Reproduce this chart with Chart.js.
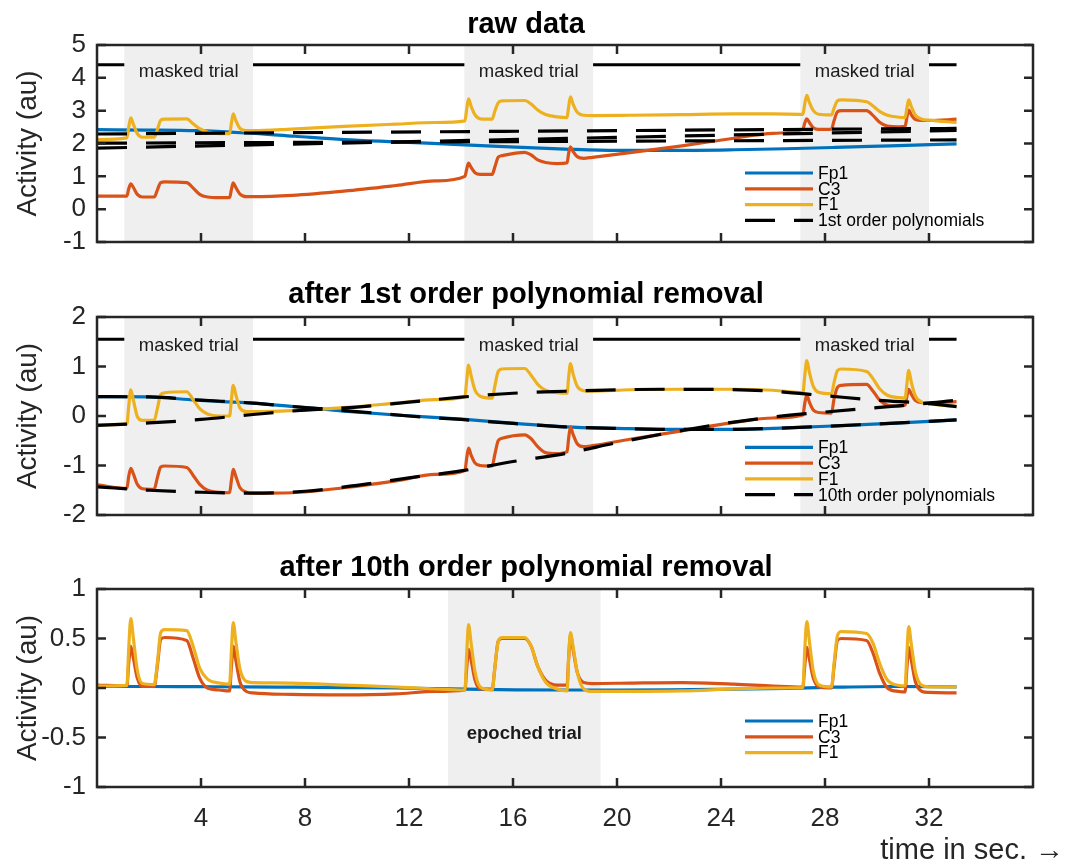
<!DOCTYPE html>
<html>
<head>
<meta charset="utf-8">
<script src="https://cdn.jsdelivr.net/npm/chart.js@4.4.1/dist/chart.umd.min.js"></script>
<style>
  body { margin: 0; background: #fff; }
  #wrap { position: relative; width: 1067px; height: 863px; }
  canvas { position: absolute; left: 0; top: 0; }
</style>
</head>
<body>
<div id="wrap">
  <canvas id="c1" width="1067" height="863"></canvas>
  <canvas id="c2" width="1067" height="863"></canvas>
  <canvas id="c3" width="1067" height="863"></canvas>
</div>
<script>
const FONT = "'Liberation Sans', Arial, Helvetica, sans-serif";

// axes
const xTicks = [4, 8, 12, 16, 20, 24, 28, 32];
const rawTicks = [-1, 0, 1, 2, 3, 4, 5];
const firstTicks = [-2, -1, 0, 1, 2];
const tenthTicks = [-1, -0.5, 0, 0.5, 1];
const tenthLabels = ["-1", "-0.5", "0", "0.5", "1"];

// trials (seconds)
const maskedStart = [1.05, 14.13, 27.05];
const maskedEnd = [6.0, 19.08, 32.0];
const epochStart = 13.5;
const epochEnd = 19.37;
const tEnd = 33.06;

// time points for F1 / C3 traces
const tEvent = [
  0, 1.15, 1.22, 1.3, 1.4, 1.55, 1.75, 2.2, 2.32, 2.45, 2.6, 3.45, 3.7, 3.95, 4.25, 4.7, 5.1, 5.17, 5.24, 5.34, 5.5, 5.75, 6.0,
  7.5, 9.5, 11.5, 13.0,
  14.15, 14.22, 14.29, 14.39, 14.54, 14.74, 15.2, 15.3, 15.43, 15.58, 16.45, 16.7, 16.95, 17.25, 17.7, 18.08, 18.14, 18.21, 18.31, 18.47, 18.72, 19.05,
  20.5, 22.5, 24.5, 26.0,
  27.15, 27.22, 27.3, 27.4, 27.55, 27.75, 28.25, 28.35, 28.48, 28.63, 29.6, 29.85, 30.1, 30.4, 30.85, 31.08, 31.15, 31.22, 31.32, 31.48, 31.73, 32.0, 33.06,
];

// raw data
const rawF1 = [
  2.12, 2.17, 2.5, 2.78, 2.58, 2.3, 2.19, 2.19, 2.42, 2.71, 2.74, 2.75, 2.6, 2.45, 2.35, 2.3, 2.3, 2.62, 2.9, 2.7, 2.46, 2.39, 2.39,
  2.44, 2.52, 2.59, 2.64,
  2.69, 3.05, 3.36, 3.13, 2.87, 2.75, 2.74, 2.98, 3.24, 3.3, 3.31, 3.2, 3.02, 2.88, 2.81, 2.79, 3.12, 3.42, 3.2, 2.95, 2.86, 2.85,
  2.86, 2.88, 2.9, 2.9,
  2.89, 3.2, 3.47, 3.25, 3.0, 2.89, 2.87, 3.08, 3.3, 3.33, 3.27, 3.14, 2.98, 2.86, 2.8, 2.79, 3.08, 3.33, 3.12, 2.86, 2.74, 2.71, 2.64,
];
const rawC3 = [
  0.4, 0.4, 0.62, 0.77, 0.66, 0.45, 0.37, 0.37, 0.58, 0.81, 0.83, 0.81, 0.64, 0.45, 0.37, 0.35, 0.35, 0.6, 0.8, 0.66, 0.46, 0.38, 0.38,
  0.42, 0.55, 0.72, 0.86,
  1.0, 1.22, 1.4, 1.27, 1.11, 1.06, 1.06, 1.28, 1.58, 1.63, 1.73, 1.65, 1.5, 1.42, 1.39, 1.41, 1.7, 1.9, 1.76, 1.6, 1.55, 1.58,
  1.72, 1.93, 2.16, 2.31,
  2.43, 2.62, 2.75, 2.64, 2.48, 2.43, 2.44, 2.7, 2.97, 3.0, 3.0, 2.85, 2.65, 2.53, 2.51, 2.52, 2.8, 3.02, 2.87, 2.73, 2.7, 2.7, 2.74,
];

// after 1st order removal
const firstF1 = [
  -0.18, -0.16, 0.2, 0.53, 0.32, -0.01, -0.09, -0.09, 0.15, 0.43, 0.47, 0.49, 0.33, 0.15, 0.04, 0.0, 0.0, 0.33, 0.62, 0.43, 0.16, 0.09, 0.09,
  0.11, 0.17, 0.26, 0.33,
  0.39, 0.72, 1.03, 0.81, 0.52, 0.4, 0.36, 0.6, 0.9, 0.95, 0.96, 0.82, 0.64, 0.52, 0.47, 0.46, 0.78, 1.06, 0.85, 0.6, 0.51, 0.5,
  0.53, 0.54, 0.54, 0.52,
  0.47, 0.8, 1.12, 0.88, 0.6, 0.48, 0.45, 0.68, 0.92, 0.95, 0.9, 0.75, 0.55, 0.42, 0.37, 0.36, 0.65, 0.92, 0.68, 0.4, 0.28, 0.25, 0.19,
];
const firstC3 = [
  -1.39, -1.46, -1.22, -1.06, -1.17, -1.38, -1.47, -1.48, -1.25, -1.03, -1.01, -1.04, -1.2, -1.38, -1.5, -1.54, -1.55, -1.3, -1.08, -1.22, -1.45, -1.54, -1.56,
  -1.55, -1.45, -1.31, -1.18,
  -1.1, -0.85, -0.65, -0.79, -0.95, -1.0, -1.01, -0.78, -0.5, -0.45, -0.38, -0.46, -0.62, -0.74, -0.76, -0.72, -0.45, -0.22, -0.37, -0.56, -0.62, -0.6,
  -0.47, -0.3, -0.13, -0.04,
  0.02, 0.25, 0.42, 0.28, 0.12, 0.07, 0.06, 0.35, 0.58, 0.62, 0.64, 0.5, 0.32, 0.22, 0.2, 0.22, 0.4, 0.54, 0.44, 0.31, 0.27, 0.27, 0.29,
];

// after 10th order removal
const tenthF1 = [
  0.02, 0.027, 0.4, 0.7, 0.5, 0.18, 0.045, 0.035, 0.25, 0.56, 0.59, 0.58, 0.42, 0.2, 0.09, 0.05, 0.04, 0.38, 0.66, 0.47, 0.19, 0.065, 0.055,
  0.05, 0.03, 0.01, -0.01,
  -0.02, 0.35, 0.64, 0.45, 0.16, 0.01, -0.02, 0.2, 0.47, 0.51, 0.51, 0.42, 0.22, 0.06, -0.01, -0.03, 0.3, 0.56, 0.42, 0.16, -0.01, -0.035,
  -0.035, -0.03, -0.01, 0.0,
  0.005, 0.38, 0.67, 0.47, 0.17, 0.035, 0.01, 0.25, 0.53, 0.57, 0.55, 0.45, 0.25, 0.08, 0.025, 0.02, 0.35, 0.62, 0.44, 0.16, 0.025, 0.012, 0.012,
];
const tenthC3 = [
  0.03, 0.02, 0.25, 0.42, 0.3, 0.1, 0.015, 0.015, 0.22, 0.49, 0.51, 0.48, 0.3, 0.1, 0.0, -0.02, -0.03, 0.22, 0.42, 0.28, 0.06, -0.035, -0.05,
  -0.065, -0.07, -0.06, -0.035,
  -0.02, 0.2, 0.39, 0.28, 0.08, -0.01, -0.01, 0.2, 0.47, 0.5, 0.5, 0.42, 0.22, 0.08, 0.03, 0.03, 0.3, 0.53, 0.39, 0.16, 0.055, 0.045,
  0.05, 0.055, 0.04, 0.02,
  0.01, 0.22, 0.41, 0.29, 0.1, 0.015, 0.0, 0.22, 0.48, 0.5, 0.48, 0.35, 0.15, 0.0, -0.035, -0.04, 0.2, 0.41, 0.28, 0.06, -0.035, -0.045, -0.05,
];

// Fp1 is smooth, fewer points
const tFp1 = [0, 2, 3.8, 5.7, 7.6, 9.5, 11.5, 14.15, 16.1, 18, 20, 22, 24.5, 26.5, 28.4, 30.5, 33.06];
const rawFp1 = [2.42, 2.41, 2.39, 2.32, 2.22, 2.12, 2.05, 1.96, 1.89, 1.83, 1.79, 1.79, 1.81, 1.84, 1.88, 1.93, 1.99];
const firstFp1 = [0.39, 0.385, 0.32, 0.27, 0.19, 0.1, 0.02, -0.07, -0.15, -0.22, -0.25, -0.27, -0.27, -0.24, -0.2, -0.15, -0.08];
const tenthFp1 = [0.015, 0.015, 0.013, 0.012, 0.008, 0.004, 0.0, -0.012, -0.018, -0.02, -0.02, -0.018, -0.012, -0.003, 0.008, 0.015, 0.012];

// 1st order polynomials (straight lines)
const tLin = [0, 33.06];
const linFp1 = [2.01, 2.11];
const linC3 = [1.86, 2.4];
const linF1 = [2.29, 2.46];

// 10th order polynomials
const tPoly = [0, 2, 4, 6, 8, 10, 12, 14, 16, 18, 20, 22, 24, 26, 28, 30, 32, 33.06];
const polyFp1 = [0.39, 0.385, 0.32, 0.26, 0.17, 0.09, 0.0, -0.07, -0.15, -0.22, -0.25, -0.27, -0.27, -0.25, -0.21, -0.16, -0.11, -0.08];
const polyC3 = [-1.43, -1.5, -1.54, -1.56, -1.52, -1.4, -1.25, -1.11, -0.92, -0.76, -0.54, -0.34, -0.16, -0.02, 0.08, 0.17, 0.26, 0.32];
const polyF1 = [-0.19, -0.14, -0.07, 0.03, 0.12, 0.18, 0.28, 0.38, 0.46, 0.5, 0.53, 0.54, 0.535, 0.5, 0.41, 0.32, 0.25, 0.19];

// level of the black "trial marker" line
const markRaw = 4.4;
const markFirst = 1.55;

const COL_FP1 = "#0072BD";
const COL_C3 = "#D95319";
const COL_F1 = "#EDB120";
const DASH = [30, 19];

function series(ts, vs) {
  return ts.map((t, i) => ({ x: t, y: vs[i] }));
}

function trace(ts, vs, color, order, dash) {
  return {
    data: series(ts, vs),
    borderColor: color,
    borderWidth: 3.2,
    borderDash: dash || [],
    borderCapStyle: "butt",
    pointRadius: 0,
    cubicInterpolationMode: "monotone",
    fill: false,
    order: order,
  };
}

// black line broken at the masked trials
function markLine(level) {
  const pts = [];
  let from = 0;
  maskedStart.forEach((s, i) => {
    pts.push({ x: from, y: level }, { x: s, y: level }, { x: (s + maskedEnd[i]) / 2, y: null });
    from = maskedEnd[i];
  });
  pts.push({ x: from, y: level }, { x: tEnd, y: level });
  return { data: pts, borderColor: "#000", borderWidth: 3, pointRadius: 0, spanGaps: false, order: 4 };
}

function makePanel(id, p) {
  const plugin = {
    id: "matlabPanel",
    beforeDatasetsDraw(chart) {
      const { ctx, chartArea: a, scales } = chart;
      const x = scales.x, y = scales.y;
      ctx.save();
      ctx.fillStyle = "#efefef";
      p.shades.forEach(([s, e]) => {
        const x0 = x.getPixelForValue(s), x1 = x.getPixelForValue(e);
        ctx.fillRect(x0, a.top, x1 - x0, a.bottom - a.top);
      });
      ctx.fillStyle = "#1a1a1a";
      ctx.font = p.shadeFont;
      ctx.textAlign = "center";
      ctx.textBaseline = "alphabetic";
      p.shades.forEach(([s, e]) => {
        ctx.fillText(p.shadeText, x.getPixelForValue((s + e) / 2), y.getPixelForValue(p.shadeTextY) + p.shadeTextDy);
      });
      ctx.restore();
    },
    afterDraw(chart) {
      const { ctx, chartArea: a, scales } = chart;
      const x = scales.x, y = scales.y;
      ctx.save();
      // box + inward ticks
      ctx.strokeStyle = "#262626";
      ctx.lineWidth = 2.5;
      ctx.strokeRect(a.left, a.top, a.right - a.left, a.bottom - a.top);
      ctx.beginPath();
      xTicks.forEach((v) => {
        const px = x.getPixelForValue(v);
        ctx.moveTo(px, a.bottom); ctx.lineTo(px, a.bottom - 9);
        ctx.moveTo(px, a.top); ctx.lineTo(px, a.top + 9);
      });
      p.yTicks.forEach((v) => {
        const py = y.getPixelForValue(v);
        ctx.moveTo(a.left, py); ctx.lineTo(a.left + 9, py);
        ctx.moveTo(a.right, py); ctx.lineTo(a.right - 9, py);
      });
      ctx.stroke();

      // legend, no box
      ctx.font = `17.5px ${FONT}`;
      ctx.textAlign = "left";
      ctx.textBaseline = "middle";
      p.legend.forEach((d, i) => {
        const ly = p.legendY + i * 15.8;
        ctx.strokeStyle = d.color;
        ctx.lineWidth = 3.2;
        ctx.setLineDash(d.dash || []);
        ctx.beginPath();
        ctx.moveTo(745, ly);
        ctx.lineTo(813, ly);
        ctx.stroke();
        ctx.setLineDash([]);
        ctx.fillStyle = "#000";
        ctx.fillText(d.label, 818, ly + 1);
      });

      // title
      ctx.font = `bold 29px ${FONT}`;
      ctx.textAlign = "center";
      ctx.textBaseline = "alphabetic";
      ctx.fillStyle = "#000";
      ctx.fillText(p.title, 526, p.titleBase);

      if (p.showX) {
        ctx.font = `29px ${FONT}`;
        ctx.textAlign = "right";
        ctx.fillStyle = "#262626";
        ctx.fillText("time in sec. \u2192", 1064, 859);
      }
      ctx.restore();
    },
  };

  const xHeight = p.showX ? 44 : 0;

  return new Chart(document.getElementById(id), {
    type: "line",
    data: { datasets: p.datasets },
    options: {
      responsive: false,
      animation: false,
      devicePixelRatio: 1,
      layout: { padding: { left: 0, right: 34, top: p.top, bottom: 863 - p.bottom - xHeight } },
      plugins: { legend: { display: false }, tooltip: { enabled: false }, title: { display: false } },
      scales: {
        x: {
          type: "linear",
          min: 0,
          max: 36,
          grid: { display: false, drawTicks: false },
          border: { display: false },
          ticks: {
            display: p.showX,
            autoSkip: false,
            maxRotation: 0,
            padding: 16,
            color: "#262626",
            font: { family: FONT, size: 26 },
          },
          afterBuildTicks: (s) => { s.ticks = xTicks.map((v) => ({ value: v })); },
          afterFit: (s) => { s.height = xHeight; },
        },
        y: {
          type: "linear",
          min: p.yTicks[0],
          max: p.yTicks[p.yTicks.length - 1],
          grid: { display: false, drawTicks: false },
          border: { display: false },
          ticks: {
            autoSkip: false,
            padding: 11,
            color: "#262626",
            font: { family: FONT, size: 26 },
            callback: (v, i) => p.yLabels[i],
          },
          afterBuildTicks: (s) => { s.ticks = p.yTicks.map((v) => ({ value: v })); },
          title: {
            display: true,
            text: "Activity (au)",
            color: "#262626",
            font: { family: FONT, size: 28 },
            padding: { top: 11, bottom: 0 },
          },
          afterFit: (s) => { s.width = 97; },
        },
      },
    },
    plugins: [plugin],
  });
}

const shadesMasked = maskedStart.map((s, i) => [s, maskedEnd[i]]);

// -------- raw data --------
makePanel("c1", {
  top: 45,
  bottom: 242,
  yTicks: rawTicks,
  yLabels: rawTicks.map(String),
  shades: shadesMasked,
  shadeText: "masked trial",
  shadeFont: `18.5px ${FONT}`,
  shadeTextY: markRaw,
  shadeTextDy: 12,
  title: "raw data",
  titleBase: 33,
  legendY: 173,
  legend: [
    { label: "Fp1", color: COL_FP1 },
    { label: "C3", color: COL_C3 },
    { label: "F1", color: COL_F1 },
    { label: "1st order polynomials", color: "#000", dash: DASH },
  ],
  datasets: [
    trace(tLin, linFp1, "#000", 0, DASH),
    trace(tLin, linC3, "#000", 0, DASH),
    trace(tLin, linF1, "#000", 0, DASH),
    trace(tEvent, rawF1, COL_F1, 1),
    trace(tEvent, rawC3, COL_C3, 2),
    trace(tFp1, rawFp1, COL_FP1, 3),
    markLine(markRaw),
  ],
});

// -------- after 1st order removal --------
makePanel("c2", {
  top: 317,
  bottom: 515,
  yTicks: firstTicks,
  yLabels: firstTicks.map(String),
  shades: shadesMasked,
  shadeText: "masked trial",
  shadeFont: `18.5px ${FONT}`,
  shadeTextY: markFirst,
  shadeTextDy: 12,
  title: "after 1st order polynomial removal",
  titleBase: 303,
  legendY: 447.3,
  legend: [
    { label: "Fp1", color: COL_FP1 },
    { label: "C3", color: COL_C3 },
    { label: "F1", color: COL_F1 },
    { label: "10th order polynomials", color: "#000", dash: DASH },
  ],
  datasets: [
    trace(tPoly, polyFp1, "#000", 0, DASH),
    trace(tPoly, polyC3, "#000", 0, DASH),
    trace(tPoly, polyF1, "#000", 0, DASH),
    trace(tEvent, firstF1, COL_F1, 1),
    trace(tEvent, firstC3, COL_C3, 2),
    trace(tFp1, firstFp1, COL_FP1, 3),
    markLine(markFirst),
  ],
});

// -------- after 10th order removal --------
makePanel("c3", {
  top: 589,
  bottom: 787,
  yTicks: tenthTicks,
  yLabels: tenthLabels,
  shades: [[epochStart, epochEnd]],
  shadeText: "epoched trial",
  shadeFont: `bold 18.5px ${FONT}`,
  shadeTextY: -0.5,
  shadeTextDy: 1,
  title: "after 10th order polynomial removal",
  titleBase: 576,
  legendY: 721,
  showX: true,
  legend: [
    { label: "Fp1", color: COL_FP1 },
    { label: "C3", color: COL_C3 },
    { label: "F1", color: COL_F1 },
  ],
  datasets: [
    trace(tEvent, tenthF1, COL_F1, 1),
    trace(tEvent, tenthC3, COL_C3, 2),
    trace(tFp1, tenthFp1, COL_FP1, 3),
  ],
});
</script>
</body>
</html>
